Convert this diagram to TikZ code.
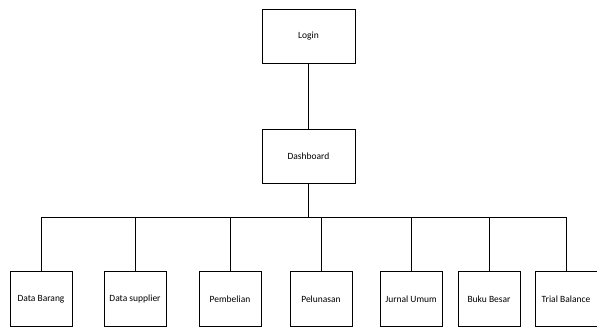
\documentclass[tikz,border=0pt]{standalone}
\usepackage{fontspec}
\setmainfont{Carlito}
\usetikzlibrary{positioning}

\begin{document}
\begin{tikzpicture}[
    x=1pt, y=1pt,
    menu/.style={rectangle, draw, line width=.8pt, minimum width=93pt, minimum height=54pt, font=\fontsize{9.5}{11}\selectfont},
    submenu/.style={menu, minimum width=62pt, minimum height=55pt},
    link/.style={line width=.7pt}
  ]
  \useasboundingbox (0,0) rectangle (597,-327);
  % draw menus
  \node[menu] at (308.5,-36) (login) {Login};
  \node[menu] at (308.5,-156) (dashboard) {Dashboard};
  \coordinate (bus) at (308.5,-217);
  \foreach \id/\x/\txt in {barang/41/Data Barang, supplier/135/Data supplier,
      pembelian/230/Pembelian, pelunasan/321/Pelunasan, jurnal/411/Jurnal Umum,
      buku/489/Buku Besar, trial/566/Trial Balance}{
    \node[submenu] at (\x,-299) (\id) {\txt};}

  % draw connections
  \draw[link] (login) -- (dashboard);
  \draw[link] (dashboard) -- (bus);
  \foreach \id in {barang,supplier,pembelian,pelunasan,jurnal,buku,trial}{
    \draw[link] (\id.north) |- (bus);}
\end{tikzpicture}
\end{document}
